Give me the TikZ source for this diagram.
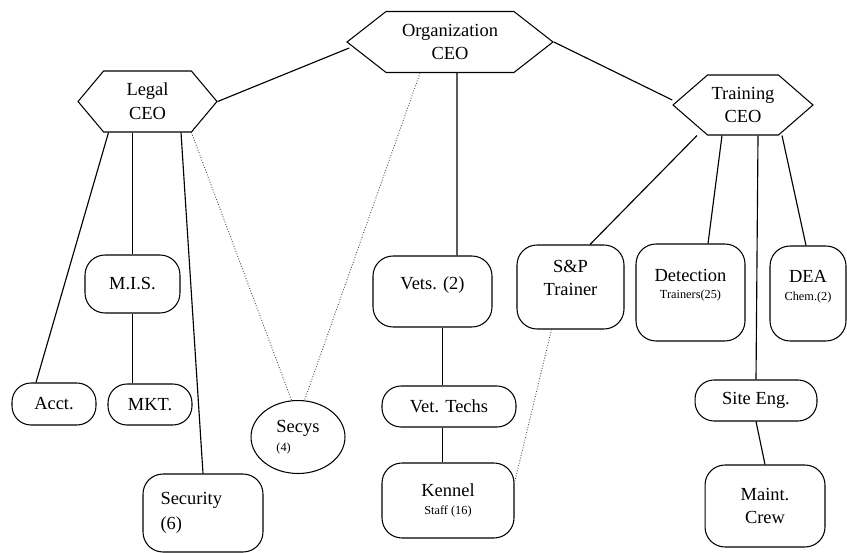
\documentclass[tikz,border=0pt]{standalone}
\usepackage{fontspec}
\setmainfont{Liberation Serif}
\usetikzlibrary{shapes.geometric,shapes.symbols,calc}

\begin{document}
\begin{tikzpicture}[
    x=0.02cm, y=-0.02cm,
    every node/.style={color=black, inner sep=0pt},
    ceo/.style={draw, line width=0.6pt, shape=signal, signal to=west and east,
      signal pointer angle=#1, align=center, font=\fontsize{10.5}{13.5}\selectfont},
    unit/.style={draw, line width=0.6pt, rounded corners=0.4cm, align=center,
      font=\fontsize{10.5}{13}\selectfont},
    pill/.style={unit, rounded corners=0.38cm},
    lift/.style={text depth=#1},
    link/.style={line width=0.65pt},
    dotlink/.style={densely dotted, line width=0.5pt, black!70}
    ]

\useasboundingbox (0,0) rectangle (847,553);

% chief officers
\node[ceo=76, minimum width=4.12cm, minimum height=1.22cm] (org) at (450,42)
    {Organization\\CEO};
\node[ceo=100, minimum width=2.78cm, minimum height=1.22cm] (leg) at (147.5,101.5)
    {Legal\\CEO};
\node[ceo=82, minimum width=2.8cm, minimum height=1.2cm] (trn) at (743,105)
    {Training\\CEO};

% legal branch
\node[unit, minimum width=1.9cm, minimum height=1.16cm] (mis) at (132.5,284) {M.I.S.};
\node[pill, minimum width=1.68cm, minimum height=0.84cm] (acct) at (54,404) {Acct.};
\node[pill, minimum width=1.68cm, minimum height=0.82cm] (mkt) at (150,404.5) {MKT.};
\node[unit, minimum width=2.4cm, minimum height=1.56cm, text width=1.7cm, align=left,
    font=\fontsize{10.5}{14}\selectfont] (sec) at (203,513) {Security\\(6)};
\node[draw, line width=0.6pt, ellipse, minimum width=1.88cm, minimum height=1.46cm,
    align=left, font=\fontsize{10.5}{11}\selectfont] (secys) at (298,437)
    {Secys\\{\fontsize{7}{8}\selectfont(4)}};

% vet branch
\node[unit, minimum width=2.38cm, minimum height=1.42cm, lift=0.35cm] (vets) at (432.5,291.5)
    {Vets. (2)};
\node[pill, minimum width=2.68cm, minimum height=0.82cm] (vtech) at (449,406.5) {Vet. Techs};
\node[unit, minimum width=2.64cm, minimum height=1.5cm, font=\fontsize{10.5}{10}\selectfont]
    (ken) at (448,500.5) {Kennel\\{\fontsize{7}{8}\selectfont Staff (16)}};

% training branch
\node[unit, minimum width=2.14cm, minimum height=1.68cm, lift=0.35cm,
    font=\fontsize{10.5}{13}\selectfont] (sp) at (570.5,287) {S\&P\\Trainer};
\node[unit, minimum width=2.18cm, minimum height=1.94cm, lift=0.35cm,
    font=\fontsize{10.5}{10}\selectfont] (det) at (690.5,292.5)
    {Detection\\{\fontsize{7}{8}\selectfont Trainers(25)}};
\node[unit, minimum width=1.52cm, minimum height=1.9cm, lift=0.32cm,
    font=\fontsize{10.5}{10}\selectfont] (dea) at (808,293.5)
    {DEA\\{\fontsize{7}{8}\selectfont Chem.(2)}};
\node[pill, minimum width=2.44cm, minimum height=0.82cm] (site) at (756,400.5) {Site Eng.};
\node[unit, minimum width=2.4cm, minimum height=1.64cm] (maint) at (765,506) {Maint.\\Crew};

% solid links
\draw[link] ($(org.west)+(3,6)$) -- (leg.east);
\draw[link] (org.east) -- ($(trn.west)+(0,-5)$);
\draw[link] ($(org.south)+(7,0)$) -- ($(vets.north)+(24.5,0)$);

\draw[link] ($(leg.south)+(-39,0)$) -- ($(acct.north)+(-18,0)$);
\draw[link] (mis.north |- leg.south) -- (mis.north);
\draw[link] ($(leg.south)+(33.5,0)$) -- (sec.north);
\draw[link] (mis.south) -- (mis.south |- mkt.north);

\draw[link] ($(vets.south)+(10.25,0)$) coordinate (vline) -- (vline |- vtech.north);
\draw[link] (vline |- vtech.south) -- (vline |- ken.north);

\draw[link] ($(trn.south)+(-46,0)$) -- ($(sp.north)+(19.5,0)$);
\draw[link] ($(trn.south)+(-21,0)$) -- ($(det.north)+(17.5,0)$);
\draw[link] ($(trn.south)+(15,0)$) -- (site.north);
\draw[link] ($(trn.south)+(39,0)$) -- ($(dea.north)+(-2,0)$);
\draw[link] (site.south) -- (maint.north);

% dotted links
\draw[dotlink] ($(org.south)+(-30,0)$) -- (secys.80);
\draw[dotlink] ($(leg.south)+(44,0)$) -- (secys.100);
\draw[dotlink] ($(sp.south)+(-19,0)$) -- (ken.15);

\end{tikzpicture}
\end{document}
